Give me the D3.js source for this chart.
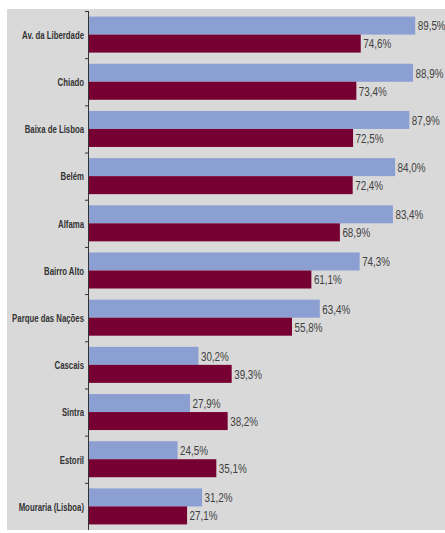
<!DOCTYPE html>
<html><head><meta charset="utf-8">
<script src="https://cdn.jsdelivr.net/npm/d3@7"></script>
<style>
body{margin:0;background:#fff;}
text{font-family:"Liberation Sans",Arial,sans-serif;}
</style></head>
<body><svg id="c" width="445" height="533"></svg>
<script>
const categories = ["Av. da Liberdade","Chiado","Baixa de Lisboa","Belém","Alfama","Bairro Alto","Parque das Nações","Cascais","Sintra","Estoril","Mouraria (Lisboa)"];
const seriesA = [89.5,88.9,87.9,84.0,83.4,74.3,63.4,30.2,27.9,24.5,31.2];
const seriesB = [74.6,73.4,72.5,72.4,68.9,61.1,55.8,39.3,38.2,35.1,27.1];
const seriesKeys = ["A","B"];
const colors = {A:"#8b9fd2", B:"#770033"};

const svg = d3.select("#c");
svg.append("rect").attr("x",7).attr("y",9).attr("width",438).attr("height",521).attr("fill","#d9d9d9");

const x = d3.scaleLinear().domain([0,100]).range([88,453.6]);
const y0 = d3.scaleBand().domain(categories).range([11,530]);
const y1 = d3.scaleBand().domain(seriesKeys).range([0,y0.bandwidth()]).paddingOuter(0.31);

const data = categories.map((c,i)=>({cat:c, vals:[{k:"A",v:seriesA[i]},{k:"B",v:seriesB[i]}]}));
const fmt = v => d3.format(".1f")(v).replace(".",",")+"%";

const g = svg.selectAll("g.cat").data(data).join("g").attr("class","cat")
  .attr("transform",d=>`translate(0,${y0(d.cat)})`);
g.selectAll("rect").data(d=>d.vals).join("rect")
  .attr("x",x(0)).attr("y",d=>y1(d.k)).attr("width",d=>x(d.v)-x(0))
  .attr("height",y1.bandwidth()).attr("fill",d=>colors[d.k]);
g.selectAll("text.val").data(d=>d.vals).join("text").attr("class","val")
  .attr("transform",d=>`translate(${x(d.v)+2.5},${y1(d.k)+y1.bandwidth()/2}) scale(0.73,1)`)
  .attr("dy","0.36em").attr("font-size",13.5).attr("fill","#404040").text(d=>fmt(d.v));
g.append("text")
  .attr("transform",`translate(84,${y0.bandwidth()/2+0.5}) scale(0.71,1)`).attr("dy","0.35em")
  .attr("text-anchor","end").attr("font-size",11).attr("font-weight","bold").attr("fill","#333")
  .text(d=>d.cat);

// axis
svg.append("line").attr("x1",x(0)+0.5).attr("x2",x(0)+0.5).attr("y1",11).attr("y2",530).attr("stroke","#333").attr("stroke-width",1);
svg.selectAll("line.tick").data(categories).join("line").attr("class","tick")
  .attr("x1",x(0)-3).attr("x2",x(0)).attr("y1",d=>y0(d)+0.5).attr("y2",d=>y0(d)+0.5).attr("stroke","#333");
</script></body></html>
